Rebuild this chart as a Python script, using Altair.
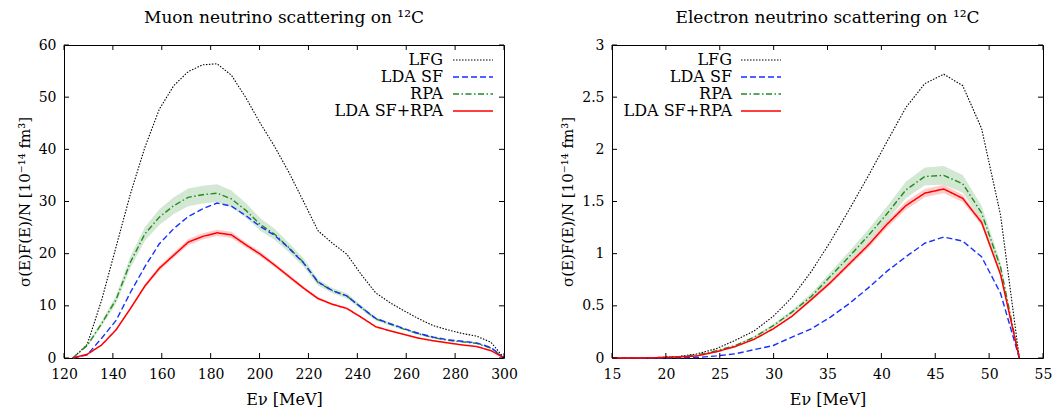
import altair as alt
import pandas as pd

FONT = "DejaVu Serif"

# ---------------- Muon neutrino panel ----------------
E_MU = [123.6, 129.5, 135.4, 141.3, 147.2, 153.1, 159.0, 164.9, 170.8, 176.7,
        182.6, 188.5, 194.4, 200.3, 206.2, 212.1, 218.0, 223.9, 229.8, 235.7,
        241.6, 247.5, 253.4, 259.3, 265.2, 271.1, 277.0, 282.9, 288.8, 294.7, 300.0]
MU_LFG = [0, 2.6, 11.1, 21.3, 31.5, 40.4, 47.7, 52.2, 54.9, 56.2,
          56.4, 54.2, 49.9, 45.0, 40.5, 35.5, 30.0, 24.4, 22.0, 19.9,
          16.0, 12.5, 10.6, 9.0, 7.5, 6.2, 5.4, 4.7, 4.2, 3.0, 0]
MU_SF = [0, 0.6, 3.8, 7.2, 12.6, 17.5, 21.9, 24.8, 27.1, 28.6,
         29.7, 29.1, 27.3, 25.2, 23.5, 21.0, 18.2, 14.6, 12.9, 11.9,
         9.7, 7.6, 6.6, 5.6, 4.7, 4.0, 3.5, 3.2, 2.9, 2.0, 0]
MU_RPA = [0, 2.4, 6.6, 11.2, 18.4, 23.8, 27.0, 29.2, 30.8, 31.3,
          31.6, 30.5, 28.3, 25.6, 23.7, 21.1, 18.3, 14.5, 12.9, 11.9,
          9.7, 7.5, 6.5, 5.5, 4.6, 3.9, 3.4, 3.1, 2.8, 1.9, 0]
MU_SFRPA = [0, 0.7, 2.5, 5.4, 9.5, 13.8, 17.2, 19.7, 22.2, 23.3,
            24.0, 23.6, 21.7, 19.9, 17.8, 15.6, 13.4, 11.4, 10.3, 9.5,
            7.8, 6.0, 5.2, 4.5, 3.8, 3.3, 2.9, 2.5, 2.2, 1.4, 0]
MU_RPA_ERR = [0, 0.2, 0.5, 0.8, 1.1, 1.3, 1.5, 1.6, 1.7, 1.7,
              1.7, 1.6, 1.4, 1.2, 1.1, 0.9, 0.8, 0.6, 0.5, 0.5,
              0.4, 0.3, 0.3, 0.2, 0.2, 0.2, 0.1, 0.1, 0.1, 0.1, 0]
MU_SFRPA_ERR = [0, 0.05, 0.1, 0.2, 0.3, 0.4, 0.5, 0.5, 0.6, 0.6,
                0.6, 0.6, 0.5, 0.5, 0.4, 0.4, 0.3, 0.3, 0.2, 0.2,
                0.2, 0.15, 0.1, 0.1, 0.1, 0.1, 0.1, 0.05, 0.05, 0.05, 0]

# ---------------- Electron neutrino panel ----------------
E_E = [15.0, 15.9, 17.65, 19.4, 21.2, 22.9, 24.7, 26.45, 28.2, 29.97, 31.7, 33.5,
       35.24, 37.0, 38.76, 40.5, 42.27, 44.03, 45.79, 47.55, 49.3, 51.06, 52.8]
E_LFG = [0, 0, 0, 0.005, 0.015, 0.04, 0.09, 0.17, 0.26, 0.40, 0.58, 0.83,
         1.11, 1.42, 1.74, 2.07, 2.40, 2.63, 2.72, 2.61, 2.20, 1.37, 0]
E_SF = [0, 0, 0, 0, 0.002, 0.005, 0.02, 0.04, 0.08, 0.12, 0.20, 0.28,
        0.39, 0.52, 0.67, 0.83, 0.97, 1.10, 1.16, 1.12, 0.97, 0.62, 0]
E_RPA = [0, 0, 0, 0.005, 0.012, 0.03, 0.07, 0.12, 0.20, 0.31, 0.44, 0.59,
         0.78, 0.97, 1.17, 1.38, 1.61, 1.74, 1.75, 1.67, 1.39, 0.87, 0]
E_SFRPA = [0, 0, 0, 0.004, 0.01, 0.02, 0.06, 0.11, 0.18, 0.28, 0.40, 0.56,
           0.72, 0.90, 1.08, 1.28, 1.46, 1.58, 1.62, 1.53, 1.30, 0.80, 0]
E_RPA_ERR = [0, 0, 0, 0, 0, 0.002, 0.004, 0.006, 0.01, 0.015, 0.02, 0.03,
             0.04, 0.05, 0.06, 0.07, 0.08, 0.085, 0.09, 0.085, 0.07, 0.05, 0]
E_SFRPA_ERR = [0, 0, 0, 0, 0, 0.001, 0.002, 0.003, 0.005, 0.008, 0.01, 0.015,
               0.02, 0.025, 0.03, 0.035, 0.04, 0.04, 0.04, 0.035, 0.03, 0.02, 0]

MU_XTICKS = [120, 140, 160, 180, 200, 220, 240, 260, 280, 300]
MU_YTICKS = [0, 10, 20, 30, 40, 50, 60]
E_XTICKS = [15, 20, 25, 30, 35, 40, 45, 50, 55]
E_YTICKS = [0, 0.5, 1, 1.5, 2, 2.5, 3]

SERIES = ["LFG", "LDA SF", "RPA", "LDA SF+RPA"]
COLORS = {"LFG": "#000000", "LDA SF": "#1530ff", "RPA": "#228b22", "LDA SF+RPA": "#ff0000"}
DASHES = {"LFG": [1.5, 1.5], "LDA SF": [6, 3], "RPA": [6, 2.5, 1.5, 2.5], "LDA SF+RPA": [1, 0]}
WIDTHS = {"LFG": 1.1, "LDA SF": 1.4, "RPA": 1.4, "LDA SF+RPA": 1.5}

YTITLE = "σ(E)F(E)/N [10⁻¹⁴ fm³]"
XTITLE = "Eν [MeV]"
LABEL_EXPR = "'' + datum.value"


def panel(E, lfg, sf, rpa, sfrpa, rpa_err, sfrpa_err, xdom, xticks, ydom, yticks,
          title, W, H, leg_text_x, leg_x1, leg_x2):
    vals = {"LFG": lfg, "LDA SF": sf, "RPA": rpa, "LDA SF+RPA": sfrpa}
    xs = alt.Scale(domain=xdom, nice=False, zero=False)
    ys = alt.Scale(domain=ydom, nice=False, zero=False)
    xaxis = alt.Axis(values=xticks, ticks=False, domain=False, grid=False,
                     labelExpr=LABEL_EXPR,
                     labelFont=FONT, labelFontSize=14, labelPadding=9, labelColor="black",
                     labelFlush=False, labelOverlap=False,
                     title=XTITLE, titleFont=FONT, titleFontSize=16,
                     titleFontWeight="normal", titleColor="black", titlePadding=10)
    yaxis = alt.Axis(values=yticks, ticks=False, domain=False, grid=False,
                     labelExpr=LABEL_EXPR,
                     labelFont=FONT, labelFontSize=14, labelPadding=8, labelColor="black",
                     labelFlush=False, labelOverlap=False,
                     title=YTITLE, titleFont=FONT, titleFontSize=15,
                     titleFontWeight="normal", titleColor="black", titlePadding=6)
    X = lambda f: alt.X(f, scale=xs, axis=xaxis)
    Y = lambda f: alt.Y(f, scale=ys, axis=yaxis)
    layers = []
    # uncertainty bands
    for name, err, col in [("RPA", rpa_err, "#228b22"), ("LDA SF+RPA", sfrpa_err, "#ff0000")]:
        v = vals[name]
        bdf = pd.DataFrame({"E": E, "lo": [a - b for a, b in zip(v, err)],
                            "hi": [a + b for a, b in zip(v, err)]})
        layers.append(alt.Chart(bdf).mark_area(color=col, opacity=0.2).encode(
            x=X("E:Q"), y=Y("lo:Q"), y2="hi:Q"))
    # lines
    for name in ["LFG", "RPA", "LDA SF", "LDA SF+RPA"]:
        ldf = pd.DataFrame({"E": E, "v": vals[name]})
        layers.append(alt.Chart(ldf).mark_line(
            color=COLORS[name], strokeDash=DASHES[name], strokeWidth=WIDTHS[name]).encode(
            x=X("E:Q"), y=Y("v:Q")))
    # inward ticks on all four sides
    tx = pd.DataFrame({"t": xticks})
    ty = pd.DataFrame({"t": yticks})
    tl = 5
    layers.append(alt.Chart(tx).mark_rule(color="black", strokeWidth=1).encode(
        x=X("t:Q"), y=alt.value(H), y2=alt.value(H - tl)))
    layers.append(alt.Chart(tx).mark_rule(color="black", strokeWidth=1).encode(
        x=X("t:Q"), y=alt.value(0), y2=alt.value(tl)))
    layers.append(alt.Chart(ty).mark_rule(color="black", strokeWidth=1).encode(
        y=Y("t:Q"), x=alt.value(0), x2=alt.value(tl)))
    layers.append(alt.Chart(ty).mark_rule(color="black", strokeWidth=1).encode(
        y=Y("t:Q"), x=alt.value(W - tl), x2=alt.value(W)))
    # legend
    rows = [15, 32, 49, 66]
    for name, yy in zip(SERIES, rows):
        one = pd.DataFrame({"s": [name]})
        layers.append(alt.Chart(one).mark_text(
            align="right", baseline="middle", font=FONT, fontSize=16, color="black").encode(
            text="s:N", x=alt.value(leg_text_x), y=alt.value(yy)))
        layers.append(alt.Chart(one).mark_rule(
            color=COLORS[name], strokeDash=DASHES[name], strokeWidth=WIDTHS[name]).encode(
            x=alt.value(leg_x1), x2=alt.value(leg_x2), y=alt.value(yy)))
    return alt.layer(*layers).properties(
        width=W, height=H,
        title=alt.TitleParams(title, font=FONT, fontSize=17, fontWeight="normal",
                              color="black", anchor="middle", offset=11))


left = panel(E_MU, MU_LFG, MU_SF, MU_RPA, MU_SFRPA, MU_RPA_ERR, MU_SFRPA_ERR,
             [120, 300], MU_XTICKS, [0, 60], MU_YTICKS,
             "Muon neutrino scattering on ¹²C", 440, 313, 379, 389, 429)
right = panel(E_E, E_LFG, E_SF, E_RPA, E_SFRPA, E_RPA_ERR, E_SFRPA_ERR,
              [15, 55], E_XTICKS, [0, 3], E_YTICKS,
              "Electron neutrino scattering on ¹²C", 431, 313, 120, 129, 169)

chart = alt.hconcat(left, right, spacing=42).properties(
    padding={"left": 16, "top": 8, "right": 5, "bottom": 5}
).configure(background="white", view=alt.ViewConfig(stroke="black", strokeWidth=1))

chart.save("out.html", embed_options={"renderer": "svg", "actions": False})
